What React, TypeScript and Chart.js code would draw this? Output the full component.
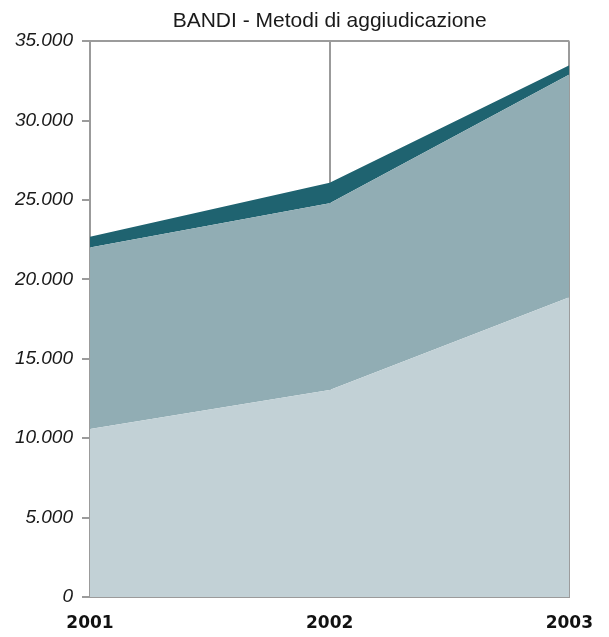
import React, { useEffect, useRef } from 'react';
import { Chart, registerables } from 'chart.js';

Chart.register(...registerables);

const titleText = 'BANDI - Metodi di aggiudicazione';
const years = ['2001', '2002', '2003'];
const seriesBase = [10580, 13030, 18880];
const seriesMiddle = [11430, 11770, 14020];
const seriesTop = [670, 1280, 590];
const yTickValues = [0, 5000, 10000, 15000, 20000, 25000, 30000, 35000];

const fmt = (v: number) => String(Math.round(v)).replace(/\B(?=(\d{3})+(?!\d))/g, '.');

const GRAY = '#9b9b9b';

const centerTitleOnPlot = {
  id: 'centerTitleOnPlot',
  afterLayout(chart: any) {
    const tb = chart.titleBlock;
    if (tb && chart.chartArea) {
      tb.left = chart.chartArea.left;
      tb.right = chart.chartArea.right;
    }
  },
};

export default function App() {
  const ref = useRef<HTMLCanvasElement | null>(null);

  useEffect(() => {
    if (!ref.current) return;
    const yMax = yTickValues[yTickValues.length - 1];
    const chart = new Chart(ref.current, {
      type: 'line',
      data: {
        labels: years,
        datasets: [
          {
            data: seriesBase,
            backgroundColor: 'rgb(194,209,214)',
            borderWidth: 0,
            pointRadius: 0,
            fill: 'origin',
          },
          {
            data: seriesMiddle,
            backgroundColor: 'rgb(145,173,180)',
            borderWidth: 0,
            pointRadius: 0,
            fill: '-1',
          },
          {
            data: seriesTop,
            backgroundColor: 'rgb(31,99,112)',
            borderWidth: 0,
            pointRadius: 0,
            fill: '-1',
          },
        ],
      },
      plugins: [centerTitleOnPlot],
      options: {
        animation: false,
        responsive: false,
        maintainAspectRatio: false,
        layout: { padding: { left: 0, right: 37, top: 0, bottom: 0 } },
        plugins: {
          legend: { display: false },
          tooltip: { enabled: false },
          title: {
            display: true,
            text: titleText,
            color: '#1a1a1a',
            font: { family: "'Liberation Sans', Arial, sans-serif", size: 21, weight: 'normal' },
            padding: { top: 9, bottom: 7 },
          },
        },
        scales: {
          x: {
            z: 1,
            offset: false,
            grid: {
              drawOnChartArea: true,
              drawTicks: false,
              color: GRAY,
              lineWidth: 2,
            },
            border: { display: true, color: GRAY, width: 2 },
            ticks: {
              color: '#111',
              padding: 16,
              maxRotation: 0,
              font: { family: "'DejaVu Sans', sans-serif", size: 17, weight: 'bold' },
            },
            afterFit: (s: any) => {
              s.height = 40;
            },
          },
          y: {
            z: 1,
            stacked: true,
            min: 0,
            max: yMax,
            afterBuildTicks: (s: any) => {
              s.ticks = yTickValues.map((v) => ({ value: v }));
            },
            grid: {
              drawOnChartArea: true,
              drawTicks: true,
              tickLength: 8,
              color: (c: any) => (c.tick && c.tick.value === yMax ? GRAY : 'rgba(0,0,0,0)'),
              tickColor: GRAY,
              lineWidth: 2,
              tickWidth: 2,
            },
            border: { display: true, color: GRAY, width: 2 },
            ticks: {
              color: '#1a1a1a',
              padding: 9,
              font: { family: "'Liberation Sans', Arial, sans-serif", size: 19, style: 'italic' },
              callback: (v: any) => fmt(Number(v)),
            },
            afterFit: (s: any) => {
              s.width = 90;
            },
          },
        },
      },
    });
    return () => chart.destroy();
  }, []);

  return (
    <div style={{ position: 'absolute', left: 0, top: 0, width: 609, height: 637 }}>
      <canvas ref={ref} width={609} height={637} style={{ display: 'block', width: 609, height: 637 }} />
    </div>
  );
}
